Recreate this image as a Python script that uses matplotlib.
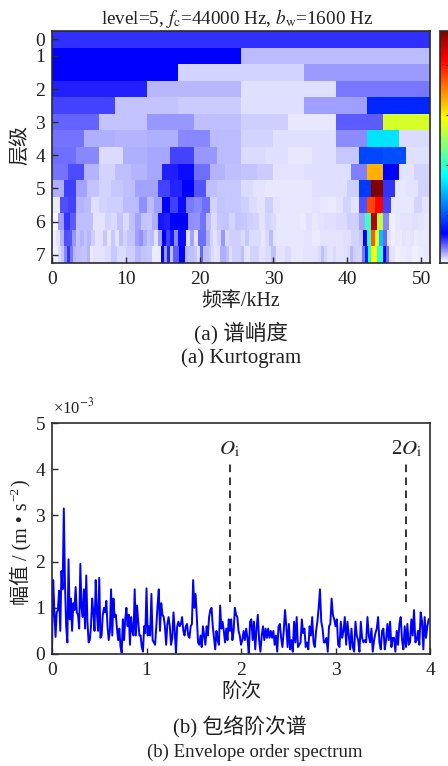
import numpy as np
import matplotlib
matplotlib.use('Agg')
import matplotlib.pyplot as plt
from matplotlib.colors import LinearSegmentedColormap

plt.rcParams['font.family'] = ['Liberation Serif', 'Noto Sans CJK SC']
plt.rcParams['mathtext.fontset'] = 'stix'

FMAX = 51.2
level_ticks = [0, 1, 2, 3, 4, 5, 6, 7]
level_rows = [0, 1, 3, 5, 7, 9, 11, 13]
freq_ticks = [0, 10, 20, 30, 40, 50]

row_00 = [.52]
row_10 = [.62, .20]
row_16 = [.62, .14, .27]
row_20 = [.55, .21, .12, .35]
row_26 = [.47, .18, .16, .12, .26, .80]
row_30 = [.40, .18, .28, .19, .15, .10, .42, 2.75]
row_36 = [.36, .23, .22, .23, .32, .20, .14, .12, .12, .31, 1.66, .13]
row_40 = [.37, .32, .13, .23, .24, .47, .28, .20, .13, .12, .10, .12, .17, .94, .98, .12]
row_46 = [.36, .45, .22, .14, .19, .22, .24, .55, .60, .37, .22, .19, .18, .16, .11, .11,
          .12, .12, .12, .33, 3.3, .62, .11, .14]
row_50 = [.23, .48, .25, .18, .14, .17, .19, .25, .25, .47, .54, .62, .43, .19, .17, .17,
          .13, .11, .10, .10, .10, .10, .12, .12, .12, .15, .89, 4.68, .51, .10, .11, .14]
row_56 = [.09, .44, .47, .22, .20, .12, .14, .15, .15, .20, .20, .30, .20, .26, .62, .48,
          .60, .34, .32, .37, .14, .18, .17, .17, .15, .13, .11, .15, .11, .10, .10, .10,
          .10, .11, .10, .09, .11, .14, .11, .44, 3.78, 4.10, .48, .10, .10, .10, .14, .11]
row_60 = [.06, .26, .51, .42, .19, .19, .19, .11, .11, .14, .13, .18, .13, .19, .25, .18,
          .17, .23, .57, .55, .62, .62, .62, .30, .29, .36, .19, .13, .17, .18, .14, .18,
          .17, .15, .14, .11, .14, .13, .10, .10, .10, .10, .09, .12, .10, .11, .12, .12,
          .13, .13, .15, .15, .25, 2.05, 4.40, 2.64, .32, .08, .10, .11, .11, .12, .11, .10]
row_66 = [.08, .11, .22, .44, .43, .28, .18, .22, .18, .21, .15, .11, .11, .17, .10, .17,
          .11, .19, .14, .18, .18, .26, .30, .23, .18, .20, .11, .26, .62, .48, .57, .32,
          .60, .60, .12, .25, .11, .37, .37, .23, .14, .11, .14, .28, .13, .15, .15, .15,
          .13, .17, .13, .13, .13, .10, .13, .20, .11, .10, .10, .10, .10, .10, .10, .10,
          .11, .11, .09, .09, .11, .11, .11, .11, .11, .11, .12, .12, .14, .14, .17, .62,
          2.0, 3.7, 2.82, 1.5, .39, .11, .08, .10, .09, .11, .10, .11, .09, .10, .09, .10]
row_70 = [.08, .08, .13, .17, .32, .51, .35, .21, .19, .19, .18, .18, .22, .09, .11, .11,
          .11, .11, .13, .13, .17, .17, .13, .13, .13, .15, .15, .15, .21, .21, .18, .18,
          .17, .17, .09, .09, .09, .62, .28, .55, .19, .42, .42, .62, .62, .21, .19, .19,
          .17, .12, .39, .19, .19, .17, .13, .11, .11, .23, .23, .19, .12, .15, .15, .15,
          .19, .11, .11, .14, .14, .14, .11, .11, .13, .13, .19, .19, .11, .11, .11, .13,
          .13, .10, .10, .10, .10, .11, .11, .11, .11, .11, .13, .19, .14, .11, .11, .13,
          .11, .11, .11, .12, .13, .21, .15, .14, .14, .35, .76, 1.92, 2.94, 2.94, 2.0, 2.0,
          .62, .37, .11, .11, .08, .08, .09, .09, .10, .10, .08, .08, .09, .09, .10, .10]
kurtogram_rows = [row_00, row_10, row_16, row_20, row_26, row_30, row_36, row_40,
                  row_46, row_50, row_56, row_60, row_66, row_70]

amp_order0 = [0, 1.6, .95, .37, .9, .95, 1.37, .5, 1.8, 1.4, 3.15, 1.5, .6, .25, 2.05, .75,
              1.2, .5, 1.1, .95, 1.45, .9, .85, .55, 1.95, 1.0, .8, 1.4, .55, 1.7, .7, .25,
              .3, .6, 1.2, .9, .5, 1.6, .9, .5, 1.65, .35, .4, .85, 1.0, .9, 1.15, .6,
              .3, .5, 1.4, .4, 1.2, .8, .85, .55, .3, .55, .15, .03, .75, .3, .75, 1.0,
              .6, .85, .2, .8, .5, .4, 1.4, .4, 1.05, .7, .4, .4, .15, .05, .6, .45]
amp_order1 = [1.42, .4, .6, .4, 1.3, .3, .25, .2, .6, 1.05, 1.4, .5, 1.1, .85, .8, .6, .2,
              .65, .8, .6, .2, .35, .9, .5, .02, .6, .7, .6, .65, .8, .5, .4, .6, .65, .4,
              .35, .6, .65, 1.6, 1.0, 1.3, .8, .25, .2, .4, .15, .6, .4, .2, .6, .4, .8,
              .95, 1.0, .6, .35, .1, .5, .3, .2, 1.05, .55, .7, .5, .25, .55, .3, .75, .5,
              .75, .3, .5, 1.0, .85, .8, .5, .4]
amp_order2 = [.2, .3, .5, .3, .55, .35, 0, .7, .75, .3, .7, .1, .55, .85, .3, .05, .4, .6,
              .3, .55, .35, .55, .35, .5, .35, .5, .2, .4, .05, .6, .65, .35, .15, .5, .95,
              .6, .15, .65, .1, .3, .05, .7, .25, .8, .15, .2, .25, .75, .45, .55, .15, .25,
              .1, .6, .4, .8, .25, .15, .5, .7, 1.0, 1.4, .7, .55, .25, .25, .35, .05, .6,
              .65, 1.2, .85, .75]
amp_order3 = [.6, .75, .2, .15, .7, .35, .5, .8, .2, .7, .4, .1, .55, .15, .05, .7, .4, .3,
              .05, .7, .35, .25, .3, .25, .8, .4, .25, .55, .05, .3, .45, .55, .8, .25, .1,
              .5, .55, .1, .3, .65, .3, .7, .15, .35, .35, .05, .5, .2, .65, .8, .3, .1, .6,
              .15, .65, .2, .25, .75, .4, .95, .25, .3, .5, .2, .9, .7, .1, .8, .35, .6, .75]
amp_segments = [amp_order0, amp_order1, amp_order2, amp_order3]
order_ticks = [0, 1, 2, 3, 4]
amp_ticks = [0, 1, 2, 3, 4, 5]
marker_orders = [1.88, 3.75]
marker_labels = [r'$O_{\mathrm{i}}$', r'2$O_{\mathrm{i}}$']

W, H = 448, 766
fig = plt.figure(figsize=(W / 100, H / 100), dpi=100)
INK = '#222222'
FRAME = '#2b2b2b'


def box(l, t, r, b):
    return [l / W, 1 - b / H, (r - l) / W, (b - t) / H]


cmap = LinearSegmentedColormap.from_list('wjet', [
    (0, (1, 1, 1)), (.125, (0, 0, 1)), (.375, (0, 1, 1)), (.625, (1, 1, 0)),
    (.875, (1, 0, 0)), (1, (.5, 0, 0))], N=512)
VMIN, VMAX = 0.04, 4.68

ax1 = fig.add_axes(box(52, 31, 430, 263))
last = None
for i, row in enumerate(kurtogram_rows):
    edges = np.linspace(0, FMAX, len(row) + 1)
    last = ax1.pcolormesh(edges, [i - .5, i + .5], np.array([row]), cmap=cmap,
                          vmin=VMIN, vmax=VMAX, shading='flat', linewidth=0, rasterized=True)
ax1.set_xlim(0, FMAX)
ax1.set_ylim(13.5, -.5)
ax1.set_xticks(freq_ticks)
ax1.set_yticks(level_rows, [str(v) for v in level_ticks])

cax = fig.add_axes(box(440, 31, 449, 263))
cb = fig.colorbar(last, cax=cax)
cb.set_ticks([1, 2, 3, 4])
cb.set_ticklabels([])
cax.tick_params(direction='in', length=2.5, width=1, color=INK)

ax2 = fig.add_axes(box(52, 423, 430, 654))
orders = np.concatenate([np.linspace(k, k + 1, len(s), endpoint=False)
                         for k, s in enumerate(amp_segments)])
amps = np.concatenate(amp_segments)
ax2.plot(orders, amps, color='#0000ff', lw=1.4)
for xm, lab in zip(marker_orders, marker_labels):
    ax2.plot([xm, xm], [1.13, 4.13], color='k', lw=1.1, dashes=(5, 3.5))
    ax2.text(xm, 4.22, lab, ha='center', va='bottom', fontsize=15, color=INK)
ax2.set_xlim(0, 4)
ax2.set_ylim(0, 5)
ax2.set_xticks(order_ticks)
ax2.set_yticks(amp_ticks)

for ax in (ax1, ax2):
    ax.tick_params(direction='in', length=4, width=1, labelsize=14, color=FRAME, labelcolor=INK)
    ax.tick_params(axis='x', pad=6)
    ax.tick_params(axis='y', pad=5)

for ax in (ax1, ax2, cax):
    for s in ax.spines.values():
        s.set_linewidth(1.2)
        s.set_color(FRAME)


def put(x, y, txt, **kw):
    return fig.text(x / W, 1 - y / H, txt, color=INK, **kw)


put(237, 19, r'level=5, $f_{\mathrm{c}}$=44000 Hz, $b_{\mathrm{w}}$=1600 Hz',
    fontsize=13.8, ha='center', va='center')
put(241, 301, '频率/kHz', fontsize=14.4, ha='center', va='center')
put(241, 693, '阶次', fontsize=14.4, ha='center', va='center')
put(21, 145, '层级', fontsize=14.4, ha='center', va='center', rotation=90)

# rotated y label of the lower panel, assembled piece by piece
renderer = fig.canvas.get_renderer()
y0 = 605
main = put(21, y0, '幅值 / (m • s', fontsize=14.4, ha='center', va='bottom', rotation=90)
y1 = H - main.get_window_extent(renderer).y1
sup = put(15, y1 - 1, '−2', fontsize=9.5, ha='center', va='bottom', rotation=90)
y2 = H - sup.get_window_extent(renderer).y1
put(21, y2 - 1, ')', fontsize=14.4, ha='center', va='bottom', rotation=90)

put(53, 417, r'×10$^{-3}$', fontsize=12, ha='left', va='bottom')
put(241, 333, '(a) 谱峭度', fontsize=15.5, ha='center', va='center')
put(241, 358, '(a) Kurtogram', fontsize=15, ha='center', va='center')
put(240, 727, '(b) 包络阶次谱', fontsize=15, ha='center', va='center')
put(255, 752, '(b) Envelope order spectrum', fontsize=13.5, ha='center', va='center')

fig.savefig('out.png', dpi=100)
